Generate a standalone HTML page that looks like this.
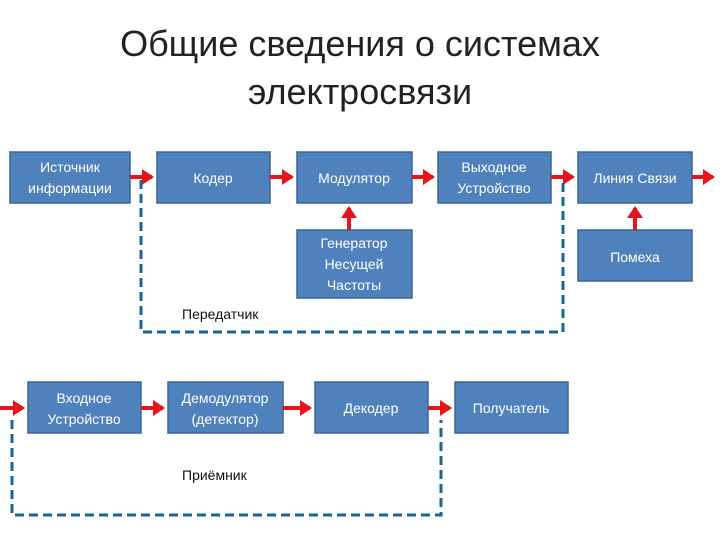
<!DOCTYPE html>
<html><head><meta charset="utf-8"><style>
body{margin:0;width:720px;height:540px;background:#fff;overflow:hidden;font-family:"Liberation Sans","DejaVu Sans",sans-serif;}
</style></head><body>
<svg width="720" height="540" xmlns="http://www.w3.org/2000/svg" font-family="Liberation Sans, DejaVu Sans, sans-serif">
<defs><marker id="a" markerWidth="4" markerHeight="4" refX="2.5" refY="2" orient="auto" markerUnits="strokeWidth"><path d="M0,0 L3,2 L0,4 z" fill="#e8141c"/></marker></defs>
<text x="360" y="56" font-size="36" text-anchor="middle" fill="#222">Общие сведения о системах</text>
<text x="360" y="104" font-size="36" text-anchor="middle" fill="#222">электросвязи</text>
<g fill="#4f81bd" stroke="#3a6595" stroke-width="1.5">
<rect x="10" y="152" width="120" height="51"/>
<rect x="157" y="152" width="113" height="51"/>
<rect x="297" y="152" width="115" height="51"/>
<rect x="438" y="152" width="113" height="51"/>
<rect x="578" y="152" width="114" height="51"/>
<rect x="297" y="230" width="115" height="68"/>
<rect x="578" y="230" width="114" height="51"/>
<rect x="28" y="382" width="113" height="51"/>
<rect x="168" y="382" width="115" height="51"/>
<rect x="315" y="382" width="113" height="51"/>
<rect x="455" y="382" width="113" height="51"/>
</g>
<g stroke="#e8141c" stroke-width="4" marker-end="url(#a)" fill="none">
<line x1="130" y1="177" x2="152" y2="177"/>
<line x1="270" y1="177" x2="292" y2="177"/>
<line x1="412" y1="177" x2="433" y2="177"/>
<line x1="551" y1="177" x2="573" y2="177"/>
<line x1="692" y1="177" x2="713" y2="177"/>
<line x1="349" y1="230" x2="349" y2="208"/>
<line x1="635" y1="230" x2="635" y2="208"/>
<line x1="0" y1="408" x2="23" y2="408"/>
<line x1="141" y1="408" x2="163" y2="408"/>
<line x1="283" y1="408" x2="310" y2="408"/>
<line x1="428" y1="408" x2="450" y2="408"/>
</g>
<g stroke="#1f6391" stroke-width="3" stroke-dasharray="9,5" fill="none">
<polyline points="141,180 141,332 563,332 563,182"/>
<polyline points="12,420 12,515 441,515 441,420"/>
</g>
<g fill="#fff" font-size="14" text-anchor="middle">
<text x="70" y="172">Источник</text><text x="70" y="193">информации</text>
<text x="213" y="183">Кодер</text>
<text x="354" y="183">Модулятор</text>
<text x="494" y="172">Выходное</text><text x="494" y="193">Устройство</text>
<text x="635" y="183">Линия Связи</text>
<text x="354" y="248">Генератор</text><text x="354" y="269">Несущей</text><text x="354" y="290">Частоты</text>
<text x="635" y="262">Помеха</text>
<text x="84" y="403">Входное</text><text x="84" y="424">Устройство</text>
<text x="225" y="403">Демодулятор</text><text x="225" y="424">(детектор)</text>
<text x="371" y="413">Декодер</text>
<text x="511" y="413">Получатель</text>
</g>
<text x="182" y="319" font-size="14" fill="#111">Передатчик</text>
<text x="182" y="480" font-size="14" fill="#111">Приёмник</text>
</svg>
</body></html>
